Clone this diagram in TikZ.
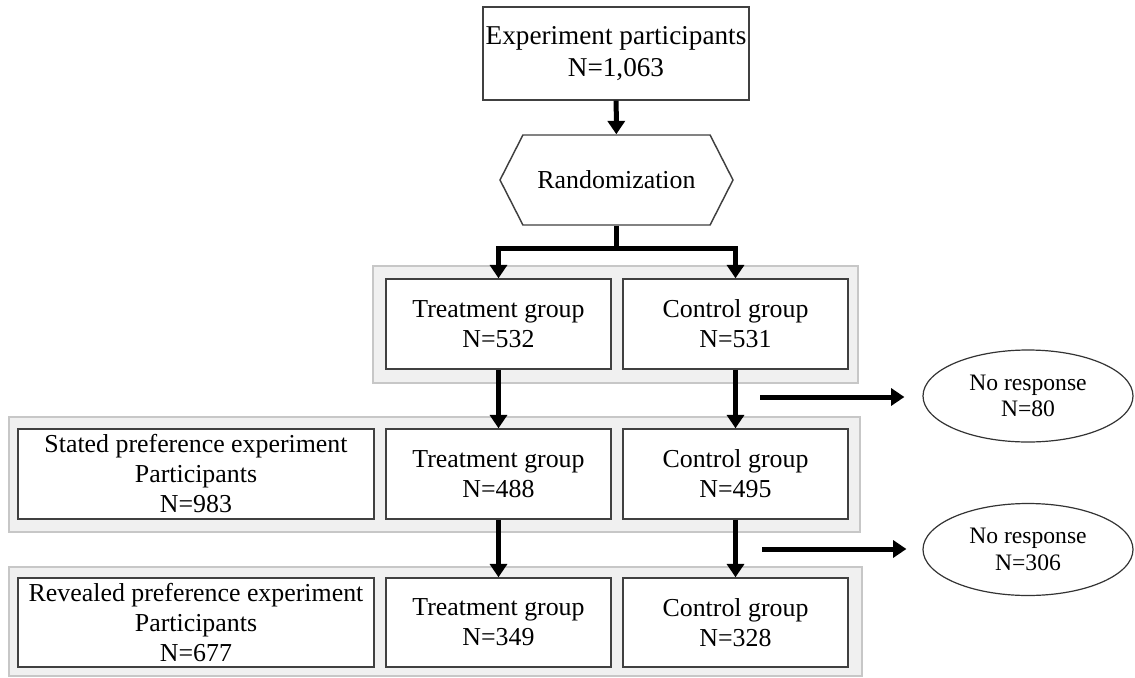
\documentclass[tikz,border=0pt]{standalone}
\usepackage{fontspec}
\setmainfont{Liberation Serif}
\usetikzlibrary{arrows.meta,shapes.symbols,shapes.geometric}

\tikzset{
  panel/.style={draw=black!22, fill=black!6, line width=1.1pt},
  box/.style={draw=black!75, fill=white, line width=1.1pt, align=center, inner sep=0pt,
    minimum width=168.75pt, minimum height=67.5pt, font=\fontsize{19.4}{22.5}\selectfont},
  flow/.style={line width=3.75pt, -{Triangle[width=12.75pt,length=10pt]}},
  drop/.style={draw=black!80, line width=0.9pt, ellipse, align=center, inner sep=0pt,
    minimum width=157.5pt, minimum height=69pt, font=\fontsize{17.7}{20}\selectfont},
}

\begin{document}
\begin{tikzpicture}[x=0.75pt,y=0.75pt,yscale=-1]
\useasboundingbox (0,0) rectangle (1135,678);

%Shape: Rectangle (grey panels)
\draw[panel] (373,266) rectangle (858,383);
\draw[panel] (9,417) rectangle (860,532);
\draw[panel] (9,567) rectangle (862,676);

% Text Node
\node[box, minimum width=199.5pt, minimum height=69.75pt, font=\fontsize{20.4}{24}\selectfont] (part) at (616,53.5) {Experiment participants\\N=1,063};
% Text Node
\node[box, signal, signal to=west and east, signal pointer angle=126, minimum width=174.75pt] (rand) at (616.5,180) {Randomization};

% Text Node
\node[box] (ta) at (498.5,324) {Treatment group\\N=532};
\node[box] (ca) at (735.5,324) {Control group\\N=531};
% Text Node
\node[box, minimum width=267pt] (sp) at (196,474) {Stated preference experiment\\Participants\\N=983};
\node[box] (tb) at (498.5,474) {Treatment group\\N=488};
\node[box] (cb) at (735.5,474) {Control group\\N=495};
% Text Node
\node[box, minimum width=267pt, minimum height=66.75pt] (rp) at (196,622.5) {Revealed preference experiment\\Participants\\N=677};
\node[box, minimum height=66.75pt] (tc) at (498.5,622.5) {Treatment group\\N=349};
\node[box, minimum height=66.75pt] (cc) at (735.5,622.5) {Control group\\N=328};

%Shape: Ellipse
\node[drop] (nra) at (1028,396) {No response\\N=80};
\node[drop] (nrb) at (1028,549.5) {No response\\N=306};

%Straight Lines
\coordinate (split) at (616.5,248);
\draw[flow] (part) -- (rand);
\draw[flow] (rand.south) -- (split) -| (ta.north);
\draw[flow] (split) -| (ca.north);
\draw[flow] (ta) -- (tb);
\draw[flow] (ca) -- (cb);
\draw[flow] (tb) -- (tc);
\draw[flow] (cb) -- (cc);

%Straight Lines (drop-outs)
\coordinate (outa) at (760,397);
\coordinate (outb) at (762,549);
\draw[flow, shorten >=13.5pt] (outa) -- (outa -| nra.west);
\draw[flow, shorten >=12pt] (outb) -- (outb -| nrb.west);

\end{tikzpicture}
\end{document}
